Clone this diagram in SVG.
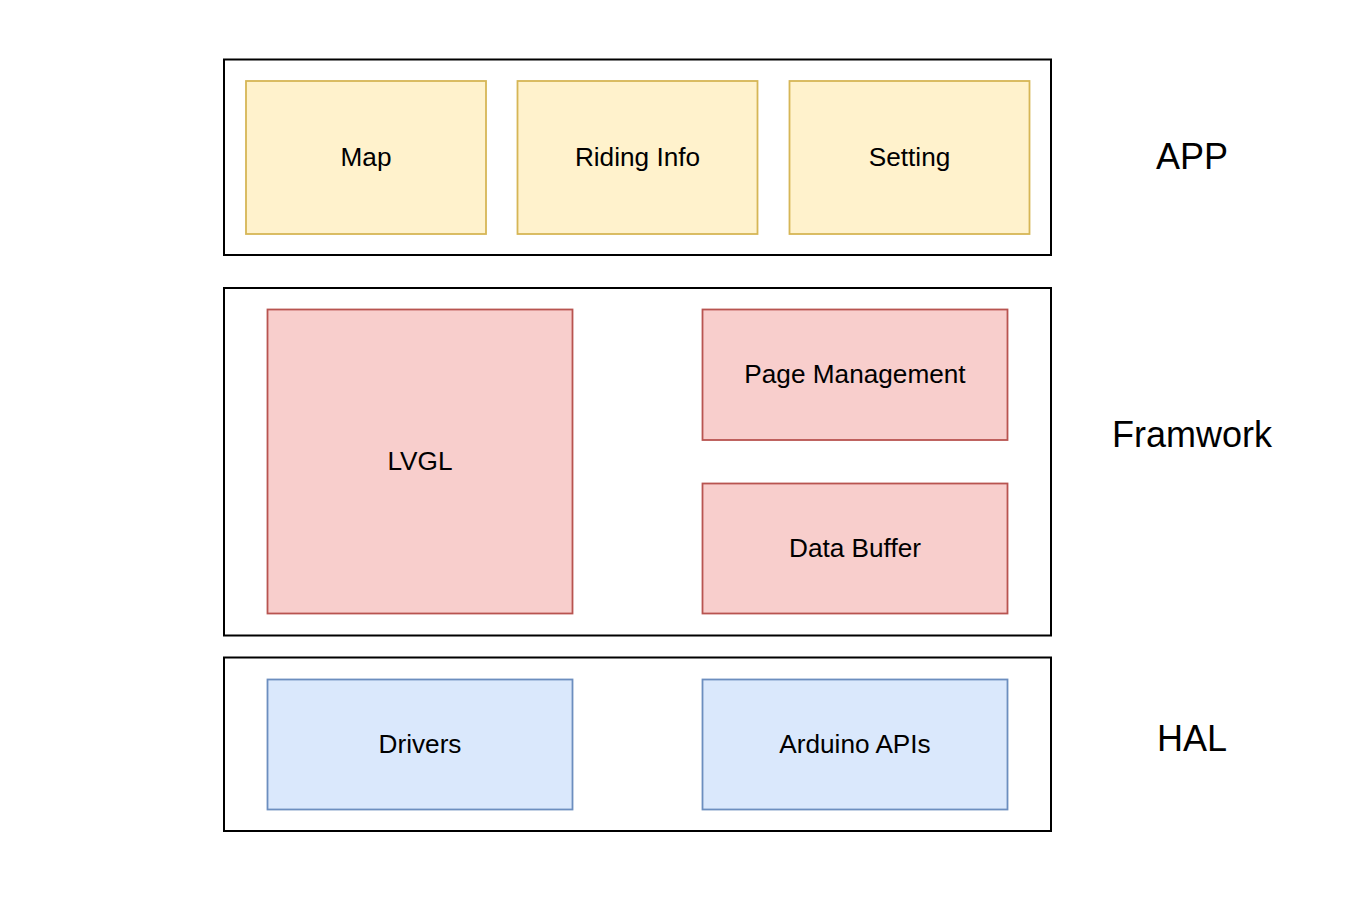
<svg xmlns="http://www.w3.org/2000/svg" width="1362" height="908" viewBox="0 0 1362 908">
<style>
.layer{fill:#ffffff;stroke:#000000;stroke-width:2}
.y{fill:#fff2cc;stroke:#d6b656;stroke-width:1.8}
.r{fill:#f8cecc;stroke:#b85450;stroke-width:1.8}
.b{fill:#dae8fc;stroke:#6c8ebf;stroke-width:1.8}
.t{font-family:"Liberation Sans",Arial,sans-serif;font-size:26.2px;fill:#000;text-anchor:middle}
.lt{font-family:"Liberation Sans",Arial,sans-serif;font-size:36px;fill:#000;text-anchor:middle}
</style>
<rect width="1362" height="908" fill="#ffffff"/>
<g id="app-layer"><rect class="layer" x="224" y="59.5" width="827" height="195.5"/></g>
<g id="framework-layer"><rect class="layer" x="224" y="288" width="827" height="347.5"/></g>
<g id="hal-layer"><rect class="layer" x="224" y="657.5" width="827" height="173.5"/></g>
<g id="map"><rect class="y" x="246" y="81" width="240" height="153"/><text class="t" x="366" y="165.5">Map</text></g>
<g id="riding-info"><rect class="y" x="517.5" y="81" width="240" height="153"/><text class="t" x="637.5" y="165.5">Riding Info</text></g>
<g id="setting"><rect class="y" x="789.5" y="81" width="240" height="153"/><text class="t" x="909.5" y="165.5">Setting</text></g>
<g id="lvgl"><rect class="r" x="267.5" y="309.5" width="305" height="304"/><text class="t" x="420" y="469.5">LVGL</text></g>
<g id="page-management"><rect class="r" x="702.5" y="309.5" width="305" height="130.5"/><text class="t" x="855" y="383">Page Management</text></g>
<g id="data-buffer"><rect class="r" x="702.5" y="483.5" width="305" height="130"/><text class="t" x="855" y="556.5">Data Buffer</text></g>
<g id="drivers"><rect class="b" x="267.5" y="679.5" width="305" height="130"/><text class="t" x="420" y="752.5">Drivers</text></g>
<g id="arduino-apis"><rect class="b" x="702.5" y="679.5" width="305" height="130"/><text class="t" x="855" y="752.5">Arduino APIs</text></g>
<g id="labels">
<text class="lt" x="1192" y="169">APP</text>
<text class="lt" x="1192" y="447">Framwork</text>
<text class="lt" x="1192" y="751">HAL</text>
</g>
<g id="connectors"></g>
</svg>
